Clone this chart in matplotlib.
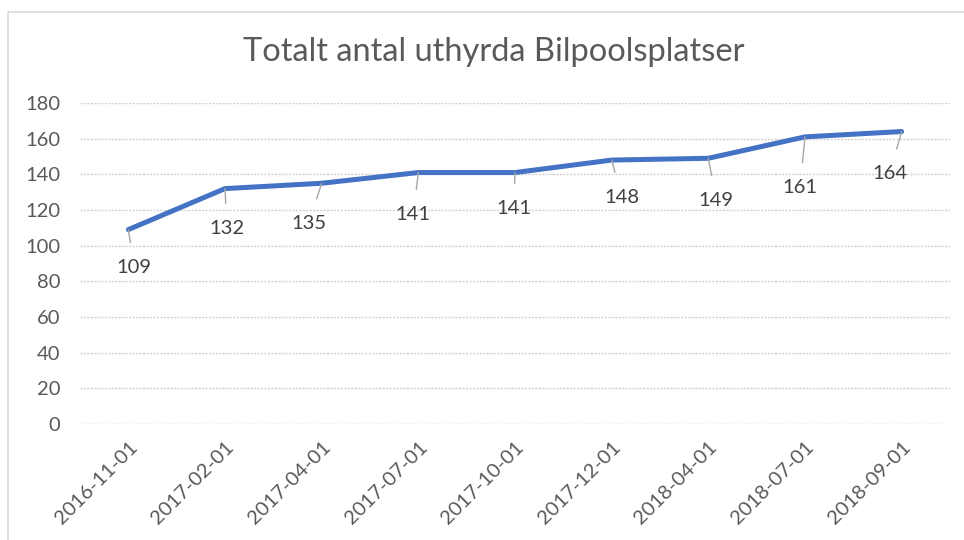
import matplotlib
matplotlib.use("Agg")
import matplotlib.pyplot as plt
from matplotlib.patches import Rectangle

categories = ["2016-11-01", "2017-02-01", "2017-04-01", "2017-07-01", "2017-10-01",
              "2017-12-01", "2018-04-01", "2018-07-01", "2018-09-01"]
values = [109, 132, 135, 141, 141, 148, 149, 161, 164]
yticks = [0, 20, 40, 60, 80, 100, 120, 140, 160, 180]
title = "Totalt antal uthyrda Bilpoolsplatser"

# label offsets in pixels (dx, dy) relative to the data point
label_offsets = [(6, -38), (2, -40), (-13, -40), (-5, -42), (-1, -36),
                 (10, -37), (8, -42), (-5, -51), (-12, -42)]

plt.rcParams['font.family'] = ['Lato', 'DejaVu Sans']

fig = plt.figure(figsize=(9.64, 5.40), dpi=100)
fig.patch.set_facecolor('white')
# chart border
fig.add_artist(Rectangle((8/964, -0.01), 1.0, 1 - 12/540 + 0.01, transform=fig.transFigure,
                         fill=False, edgecolor='#d9d9d9', linewidth=1.2))

ax = fig.add_axes([80/964, 1 - 424/540, (950-80)/964, (424-103)/540])
x = list(range(len(categories)))
ax.plot(x, values, color='#4472C4', linewidth=3.6, solid_capstyle='round', zorder=3)

for xi, v, (dx, dy) in zip(x, values, label_offsets):
    ax.annotate(str(v), xy=(xi, v), xytext=(dx, dy), textcoords='offset pixels',
                ha='center', va='center', fontsize=14.5, color='#404040',
                arrowprops=dict(arrowstyle='-', color='#a6a6a6', lw=1,
                                shrinkA=10, shrinkB=0),
                zorder=4)

ax.set_xlim(-0.5, len(categories) - 0.5)
ax.set_ylim(0, 180)
ax.set_yticks(yticks)
ax.set_xticks(x)
ax.set_xticklabels(categories, rotation=45, ha='right', va='top',
                   rotation_mode='anchor', fontsize=14.5, color='#595959')
ax.tick_params(axis='y', labelsize=14.5, labelcolor='#595959', length=0, pad=14)
ax.tick_params(axis='x', length=0, pad=10)
ax.grid(axis='y', color='#d0d0d0', linewidth=1, linestyle=(0, (1.5, 1)))
ax.set_axisbelow(True)
for s in ax.spines.values():
    s.set_visible(False)

fig.text(494/964, 1 - 52/540, title, ha='center', va='center', fontsize=23.5,
         color='#595959')

fig.savefig("out.png", dpi=100)
